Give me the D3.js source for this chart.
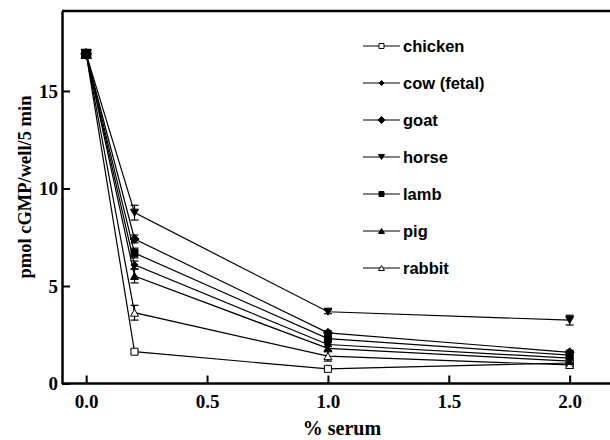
<!DOCTYPE html>
<html>
<head>
<meta charset="utf-8">
<script src="https://cdn.jsdelivr.net/npm/d3@7"></script>
<style>
  body { margin: 0; background: #fff; }
  svg { display: block; }
</style>
</head>
<body>
<script>
const doses = [0, 0.2, 1.0, 2.0];
const names = ["chicken", "cow (fetal)", "goat", "horse", "lamb", "pig", "rabbit"];
const shapes = ["squareOpen", "diamondSmall", "diamond", "triDown", "square", "triUp", "triOpen"];
// mean values per series
const chicken = [16.9, 1.63, 0.75, 1.05];
const cow = [16.9, 6.08, 2.0, 1.3];
const goat = [16.9, 7.41, 2.6, 1.6];
const horse = [16.9, 8.76, 3.68, 3.25];
const lamb = [16.9, 6.69, 2.3, 1.45];
const pig = [16.9, 5.51, 1.8, 1.15];
const rabbit = [16.9, 3.63, 1.4, 0.95];
// error bars (sem)
const chickenErr = [0.1, 0.1, 0.1, 0.1];
const cowErr = [0.1, 0.2, 0.1, 0.1];
const goatErr = [0.1, 0.2, 0.1, 0.1];
const horseErr = [0.15, 0.38, 0.1, 0.25];
const lambErr = [0.1, 0.25, 0.15, 0.15];
const pigErr = [0.1, 0.35, 0.1, 0.1];
const rabbitErr = [0.1, 0.38, 0.25, 0.1];

const series = [chicken, cow, goat, horse, lamb, pig, rabbit];
const errs = [chickenErr, cowErr, goatErr, horseErr, lambErr, pigErr, rabbitErr];
const drawOrder = [0, 6, 1, 2, 3, 5, 4]; // lamb's filled square ends on top
const xTicks = [0, 0.5, 1.0, 1.5, 2.0];
const yTicks = [0, 5, 10, 15];

const svg = d3.select("body").append("svg")
  .attr("width", 610)
  .attr("height", 440);

const x = d3.scaleLinear().domain([-0.1, 2.2]).range([62, 618]);
const y = d3.scaleLinear().domain([0, 19.1]).range([383.5, 11]);

// frame: top line + axes
svg.append("line").attr("x1", 62).attr("x2", 610).attr("y1", 11).attr("y2", 11)
  .attr("stroke", "#000").attr("stroke-width", 2.5);

const xAxis = svg.append("g").attr("transform", "translate(0,383.5)")
  .call(d3.axisBottom(x).tickValues(xTicks).tickSizeInner(-8).tickSizeOuter(0).tickFormat(d3.format(".1f")));
const yAxis = svg.append("g").attr("transform", "translate(62,0)")
  .call(d3.axisLeft(y).tickValues(yTicks).tickSizeInner(-8).tickSizeOuter(0));

[xAxis, yAxis].forEach(a => {
  a.select(".domain").attr("stroke-width", 2.5);
  a.selectAll(".tick line").attr("stroke-width", 2);
  a.selectAll("text").attr("font-family", "Liberation Serif, serif")
    .attr("font-weight", "bold").attr("font-size", 19).attr("fill", "#000");
});
xAxis.selectAll("text").attr("y", 24).attr("dy", 0);
yAxis.selectAll("text").attr("dx", "-0.05em");
xAxis.select(".domain").attr("d", "M62,0H610");

function marker(g, shape, cx, cy, s) {
  const h = s / 2;
  let d, fill = "#000";
  if (shape === "squareOpen") { d = `M${cx-h},${cy-h}h${s}v${s}h${-s}z`; fill = "#fff"; }
  else if (shape === "square") d = `M${cx-h},${cy-h}h${s}v${s}h${-s}z`;
  else if (shape === "diamond" || shape === "diamondSmall") {
    const k = shape === "diamond" ? h + 1 : h;
    d = `M${cx},${cy-k}L${cx+k},${cy}L${cx},${cy+k}L${cx-k},${cy}z`;
  }
  else if (shape === "triDown") d = `M${cx-h-0.5},${cy-h}L${cx+h+0.5},${cy-h}L${cx},${cy+h}z`;
  else if (shape === "triUp") d = `M${cx-h-0.5},${cy+h}L${cx+h+0.5},${cy+h}L${cx},${cy-h}z`;
  else if (shape === "triOpen") { d = `M${cx-h-0.5},${cy+h}L${cx+h+0.5},${cy+h}L${cx},${cy-h}z`; fill = "#fff"; }
  g.append("path").attr("d", d).attr("fill", fill).attr("stroke", "#000").attr("stroke-width", 1);
}

const line = d3.line().x((d, i) => x(doses[i])).y(d => y(d));
const plot = svg.append("g");

series.forEach((vals, si) => {
  plot.append("path").attr("d", line(vals)).attr("fill", "none")
    .attr("stroke", "#000").attr("stroke-width", 1.2);
});
drawOrder.forEach(si => {
  const vals = series[si];
  const g = plot.append("g");
  vals.forEach((v, i) => {
    const cx = x(doses[i]);
    const e = errs[si][i];
    g.append("line").attr("x1", cx).attr("x2", cx).attr("y1", y(v - e)).attr("y2", y(v + e))
      .attr("stroke", "#000").attr("stroke-width", 1.2);
    [v - e, v + e].forEach(t => g.append("line").attr("x1", cx - 4).attr("x2", cx + 4)
      .attr("y1", y(t)).attr("y2", y(t)).attr("stroke", "#000").attr("stroke-width", 1.2));
    marker(g, shapes[si], cx, y(v), i === 0 ? 9 : 7);
  });
});

// legend
const leg = svg.append("g");
names.forEach((n, i) => {
  const ly = 46 + i * 37;
  leg.append("line").attr("x1", 363).attr("x2", 400).attr("y1", ly).attr("y2", ly)
    .attr("stroke", "#000").attr("stroke-width", 1.2);
  marker(leg, shapes[i], 381.5, ly, 5);
  leg.append("text").attr("x", 403).attr("y", ly + 5.5).text(n)
    .attr("font-family", "Liberation Sans, Arial, sans-serif").attr("font-weight", "bold")
    .attr("font-size", 16.5).attr("fill", "#000");
});

// axis titles
svg.append("text").attr("x", 342).attr("y", 435).attr("text-anchor", "middle")
  .attr("font-family", "Liberation Serif, serif").attr("font-weight", "bold").attr("font-size", 20)
  .text("% serum");
svg.append("text").attr("transform", "translate(31,187) rotate(-90)").attr("text-anchor", "middle")
  .attr("font-family", "Liberation Serif, serif").attr("font-weight", "bold").attr("font-size", 18.5)
  .text("pmol cGMP/well/5 min");
</script>
</body>
</html>
